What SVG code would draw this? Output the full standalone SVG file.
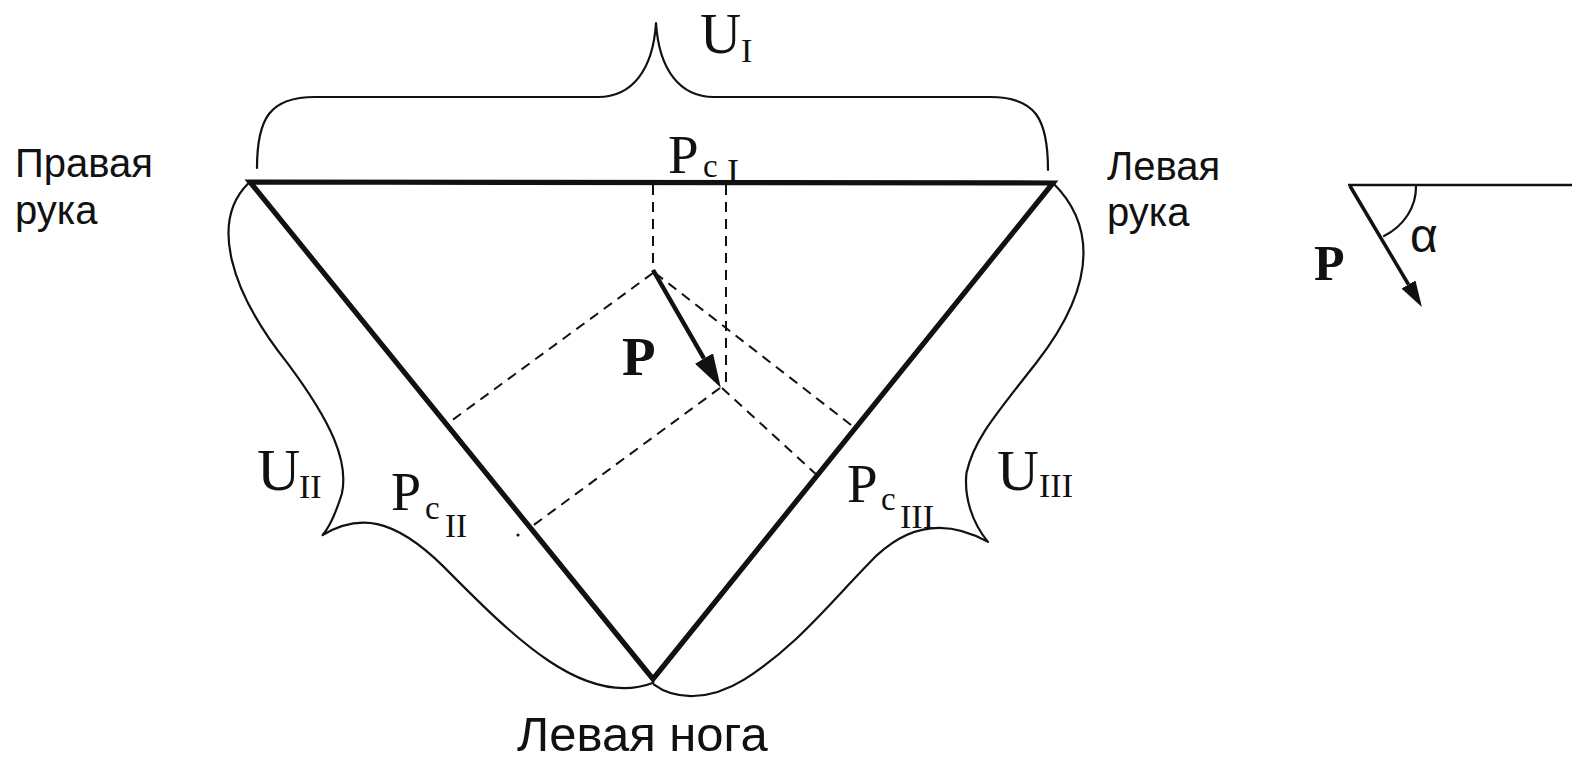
<svg xmlns="http://www.w3.org/2000/svg" width="1581" height="762" viewBox="0 0 1581 762">
<style>
.bg{fill:#fff}
.tri{fill:none;stroke:#111;stroke-width:5.2;stroke-linejoin:miter}
.br{fill:none;stroke:#111;stroke-width:2.2;stroke-linecap:round;stroke-linejoin:round}
.dash{fill:none;stroke:#111;stroke-width:2;stroke-dasharray:10 7}
.vec{fill:none;stroke:#111;stroke-linecap:butt}
.sans{font-family:"Liberation Sans",Arial,sans-serif;fill:#111}
.ser{font-family:"Liberation Serif","Times New Roman",serif;fill:#111}
.bold{font-weight:bold}
</style>
<defs>
<marker id="head" markerUnits="strokeWidth" markerWidth="7.5" markerHeight="4.6" viewBox="0 0 7.5 4.6" refX="0" refY="2.3" orient="auto">
<path d="M0,0 L7.5,2.3 L0,4.6 Z" fill="#111"/>
</marker>
</defs>
<rect class="bg" x="0" y="0" width="1581" height="762"/>

<g id="triangle">
<polygon class="tri" points="250,182 1053,183 653,679"/>
</g>

<g id="braces">
<path id="brace-I" class="br" d="M257,168 C257,118 270,97 315,97 L598,97 C632,97 653,70 656,23 C659,70 680,97 714,97 L990,97 C1035,97 1048,118 1048,170"/>
<path id="brace-II" class="br" transform="matrix(0.6298 0.7767 -0.7767 0.6298 250 182)" d="M0,2 C5,55 70,84 164,85 C240,88 280,100 300,125 C310,140 318,155 320,166 C326,125 350,100 420,92 C520,82 620,72 643,2"/>
<path id="brace-III" class="br" transform="matrix(-0.6285 0.7778 0.7778 0.6285 1053 183)" d="M0,0 C5,50 40,98 150,100 C220,101 250,100 280,115 C300,128 315,150 320,175 C326,140 345,105 400,97 C470,90 520,92 580,72 C620,58 640,30 641,5"/>
</g>

<g id="connectors">
<line class="dash" x1="653" y1="185" x2="653" y2="271"/>
<line class="dash" x1="726" y1="185" x2="726" y2="388"/>
<line class="dash" x1="653" y1="273" x2="447" y2="424"/>
<line class="dash" x1="720" y1="388" x2="531" y2="527"/>
<line class="dash" x1="655" y1="273" x2="855" y2="428"/>
<line class="dash" x1="722" y1="388" x2="818" y2="476"/>
<line id="vector-P" class="vec" stroke-width="4.5" x1="653" y1="270" x2="704" y2="358.5" marker-end="url(#head)"/>
<circle cx="518" cy="535" r="1.6" fill="#111"/>
</g>

<g id="label-right-arm">
<text class="sans" font-size="40" x="15" y="177">Правая</text>
<text class="sans" font-size="40" x="15" y="224">рука</text>
</g>
<g id="label-left-arm">
<text class="sans" font-size="40" x="1107" y="180">Левая</text>
<text class="sans" font-size="40" x="1107" y="226">рука</text>
</g>
<g id="label-left-leg">
<text class="sans" font-size="49" x="517" y="751">Левая нога</text>
</g>

<g id="label-UI">
<text class="ser" font-size="57" x="700" y="53">U</text>
<text class="ser" font-size="34" x="741" y="62">I</text>
</g>
<g id="label-UII">
<text class="ser" font-size="60" x="257" y="490">U</text>
<text class="ser" font-size="34" x="299" y="498">II</text>
</g>
<g id="label-UIII">
<text class="ser" font-size="58" x="997" y="490">U</text>
<text class="ser" font-size="34" x="1039" y="497">III</text>
</g>

<g id="label-PcI">
<text class="ser" font-size="55" x="668" y="173">P</text>
<text class="ser" font-size="33" x="703" y="177">c</text>
<text class="ser" font-size="36" x="727" y="184">I</text>
</g>
<g id="label-PcII">
<text class="ser" font-size="54" x="391" y="510">P</text>
<text class="ser" font-size="33" x="425" y="519">c</text>
<text class="ser" font-size="33" x="445" y="537">II</text>
</g>
<g id="label-PcIII">
<text class="ser" font-size="55" x="847" y="502">P</text>
<text class="ser" font-size="33" x="881" y="510">c</text>
<text class="ser" font-size="34" x="900" y="528">III</text>
</g>

<g id="label-P">
<text class="ser bold" font-size="55" x="622" y="375">P</text>
</g>

<g id="angle-legend">
<line class="vec" stroke-width="2.5" x1="1348" y1="185" x2="1572" y2="185"/>
<line class="vec" stroke-width="3.5" x1="1350" y1="186" x2="1408.5" y2="284.5" marker-end="url(#head)"/>
<path class="br" d="M1416,186 A62 56 0 0 1 1384,236"/>
<text class="ser bold" font-size="50" x="1314" y="280">P</text>
<text class="sans" font-size="48" x="1410" y="252">α</text>
</g>
</svg>
